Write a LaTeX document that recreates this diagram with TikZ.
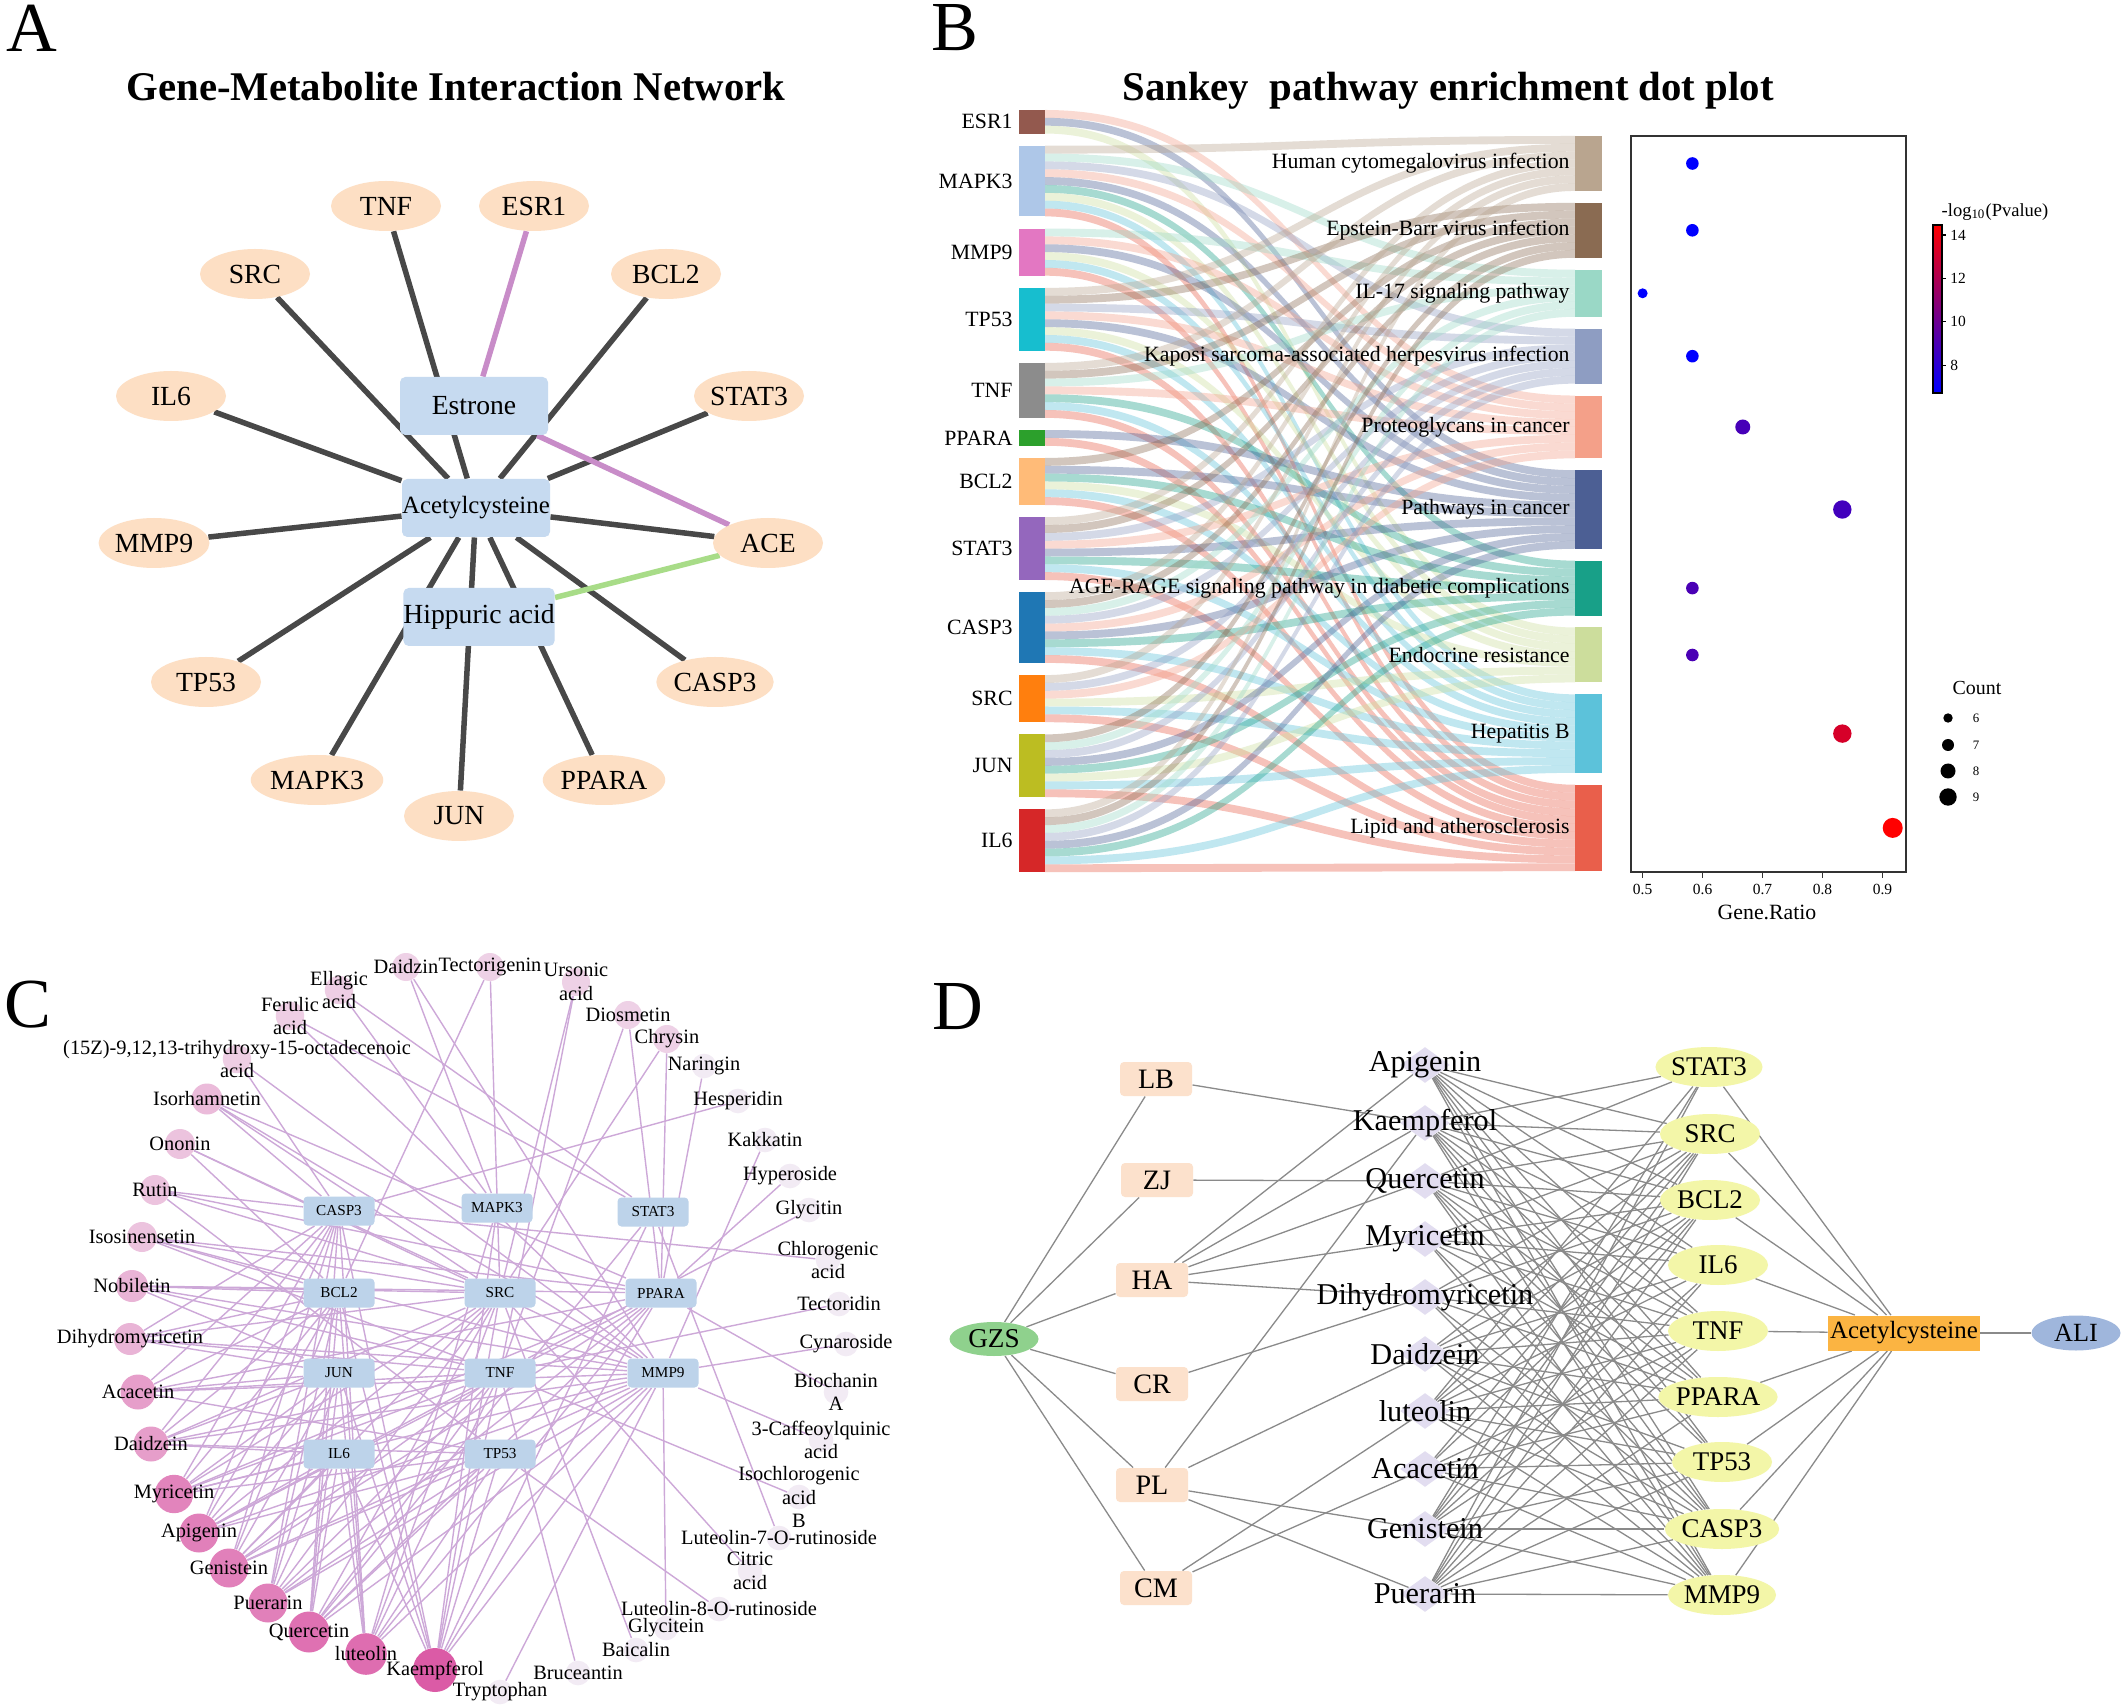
\documentclass[tikz,border=0pt]{standalone}
\usepackage{fontspec}
\setmainfont{Liberation Serif}
\usetikzlibrary{shapes.geometric,backgrounds}

\def\pxu{0.15mm}

% panel A
\definecolor{apeach}{HTML}{FDDFC4}
\definecolor{ablue}{HTML}{C6DAF0}
\definecolor{adark}{HTML}{484848}
\definecolor{apink}{HTML}{C88CC8}
\definecolor{agreen}{HTML}{A8DC88}
% panel B
\definecolor{sk1}{HTML}{93594E}
\definecolor{sk2}{HTML}{AEC7E8}
\definecolor{sk3}{HTML}{E377C2}
\definecolor{sk4}{HTML}{17BECF}
\definecolor{sk5}{HTML}{8C8C8C}
\definecolor{sk6}{HTML}{2CA02C}
\definecolor{sk7}{HTML}{FFBB78}
\definecolor{sk8}{HTML}{9467BD}
\definecolor{sk9}{HTML}{1F77B4}
\definecolor{sk10}{HTML}{FF7F0E}
\definecolor{sk11}{HTML}{BCBD22}
\definecolor{sk12}{HTML}{D62728}
\definecolor{pw0}{HTML}{B9A58F}
\definecolor{pw1}{HTML}{8A6B52}
\definecolor{pw2}{HTML}{9AD8C6}
\definecolor{pw3}{HTML}{8E9DC2}
\definecolor{pw4}{HTML}{F4A089}
\definecolor{pw5}{HTML}{4C5F94}
\definecolor{pw6}{HTML}{18A088}
\definecolor{pw7}{HTML}{CCDD9C}
\definecolor{pw8}{HTML}{5CC2DA}
\definecolor{pw9}{HTML}{E95F4B}
% panel C
\definecolor{clight}{HTML}{F3EFF6}
\definecolor{cdark}{HTML}{DB5BA6}
\definecolor{cedge}{HTML}{CDA8D8}
\definecolor{cbox}{HTML}{BDD3EA}
% panel D
\definecolor{dherb}{HTML}{FCE1CC}
\definecolor{dgzs}{HTML}{8FD18D}
\definecolor{ddia}{HTML}{E2DDF0}
\definecolor{dgene}{HTML}{F3F6A8}
\definecolor{dnac}{HTML}{FBB442}
\definecolor{dali}{HTML}{9FB6DC}
\definecolor{dedge}{HTML}{8A8A8A}

\tikzset{
  plet/.style={inner sep=0pt, font=\fontsize{30}{30}\selectfont},
  ptitle/.style={inner sep=0pt, anchor=base, font=\fontsize{17.4}{20}\selectfont\bfseries},
  agene/.style={ellipse, fill=apeach, minimum width=110*\pxu, minimum height=50*\pxu, inner sep=0pt, font=\fontsize{11.8}{12}\selectfont},
  abox/.style={fill=ablue, rounded corners=0.8mm, minimum width=148*\pxu, minimum height=58*\pxu, inner sep=0pt, font=\fontsize{11.8}{12}\selectfont},
  alink/.style={draw=adark, line width=5.5*\pxu},
  blab/.style={inner sep=0pt, font=\fontsize{9.3}{10}\selectfont},
  ticklab/.style={inner sep=0pt, font=\fontsize{6.6}{7}\selectfont},
  cgene/.style={fill=cbox, rounded corners=0.6mm, minimum width=71*\pxu, minimum height=29*\pxu, inner sep=0pt, font=\fontsize{6.5}{7}\selectfont},
  cmet/.style={circle, inner sep=0pt},
  clab/.style={inner sep=0pt, align=center, font=\fontsize{8.7}{10}\selectfont},
  clink/.style={draw=cedge, line width=1.4*\pxu},
  herb/.style={fill=dherb, rounded corners=0.6mm, minimum width=72*\pxu, minimum height=34*\pxu, inner sep=0pt, font=\fontsize{12}{12}\selectfont},
  dia/.style={diamond, fill=ddia, minimum width=50*\pxu, minimum height=36*\pxu, inner sep=0pt},
  dlab/.style={inner sep=0pt, font=\fontsize{12.9}{13}\selectfont},
  dgn/.style={ellipse, fill=dgene, minimum width=100*\pxu, minimum height=40*\pxu, inner sep=0pt, font=\fontsize{11.5}{12}\selectfont},
  dlink/.style={draw=dedge, line width=1.3*\pxu}
}

\begin{document}
\begin{tikzpicture}[x=0.15mm, y=-0.15mm]
\useasboundingbox (0,0) rectangle (2128,1706);
\begin{scope}[on background layer]
  \fill[white] (0,0) rectangle (2128,1706);
\end{scope}

% A: gene-metabolite network
\node[plet] (lA) at (32,28) {A};
\node[ptitle] (tA) at (456,101) {Gene-Metabolite Interaction Network};
\foreach \n/\x/\y in {TNF/386/206, ESR1/534/206, SRC/255/274, BCL2/666/274, IL6/171/396, STAT3/749/396, MMP9/154/543, ACE/768/543, TP53/206/682, CASP3/715/682, MAPK3/317/780, JUN/459/816, PPARA/604/780}
  \node[agene] (a\n) at (\x,\y) {\n};
\node[abox] (aEst) at (474,406) {Estrone};
\node[abox, font=\fontsize{10.6}{11}\selectfont] (aNac) at (476,508) {Acetylcysteine};
\node[abox] (aHip) at (479,617) {Hippuric acid};
\begin{scope}[on background layer]
  \foreach \n in {TNF,SRC,BCL2,IL6,STAT3,MMP9,ACE,TP53,CASP3,MAPK3,JUN,PPARA}
    \draw[alink] (aNac) -- (a\n);
  \draw[alink, draw=apink] (aEst) -- (aESR1);
  \draw[alink, draw=apink] (aEst) -- (aACE);
  \draw[alink, draw=agreen] (aHip) -- (aACE);
\end{scope}

% B: sankey + dot plot
\node[plet] (lB) at (955,28) {B};
\node[ptitle] (tB) at (1448,101) {Sankey\ \ pathway enrichment dot plot};
\def\ptops{{136,202.85,269.7,328.7,395.55,470.25,560.65,627.5,694.35,784.75}}
\foreach \p in {0,...,9}{\expandafter\xdef\csname psl\p\endcsname{0}}
\foreach \gn/\gt/\gc/\gl [count=\gi] in {ESR1/110/3/{4,5,7}, MAPK3/145.75/9/{0,2,3,4,5,6,7,8,9}, MMP9/228.6/6/{2,4,5,7,8,9}, TP53/287.9/8/{0,1,3,4,5,7,8,9}, TNF/362.9/7/{0,1,2,4,6,8,9}, PPARA/430.05/2/{5,9}, BCL2/457.95/6/{1,5,6,7,8,9}, STAT3/517.25/8/{0,1,3,4,5,6,8,9}, CASP3/592.25/9/{0,1,2,3,4,5,6,8,9}, SRC/675.1/6/{0,3,4,7,8,9}, JUN/734.4/8/{1,2,3,5,6,7,8,9}, IL6/809.4/8/{0,1,2,3,5,6,8,9}}{
  \begin{scope}[on background layer]
  \foreach \p [count=\k from 0] in \gl {
    \pgfmathsetmacro\ya{\gt+\k*7.85}
    \edef\slt{\csname psl\p\endcsname}
    \pgfmathsetmacro\yb{\ptops[\p]+\slt*7.85}
    \expandafter\xdef\csname psl\p\endcsname{\the\numexpr\slt+1\relax}
    \fill[pw\p, opacity=.38] (1045,\ya) .. controls (1310,\ya) and (1310,\yb) .. (1575,\yb)
      -- (1575,\yb+7.85) .. controls (1310,\yb+7.85) and (1310,\ya+7.85) .. (1045,\ya+7.85) -- cycle;
  }
  \end{scope}
  \fill[sk\gi] (1019,\gt) rectangle (1045,\gt+\gc*7.85);
  \node[blab, anchor=east] (b\gn) at (1013,\gt+\gc*3.925) {\gn};
}
\foreach \pn/\pt/\pc [count=\q from 0] in {Human cytomegalovirus infection/136/7, Epstein-Barr virus infection/202.85/7, IL-17 signaling pathway/269.7/6, Kaposi sarcoma-associated herpesvirus infection/328.7/7, Proteoglycans in cancer/395.55/8, Pathways in cancer/470.25/10, AGE-RAGE signaling pathway in diabetic complications/560.65/7, Endocrine resistance/627.5/7, Hepatitis B/694.35/10, Lipid and atherosclerosis/784.75/11}{
  \fill[pw\q] (1575,\pt) rectangle (1602,\pt+\pc*7.85);
  \node[blab, anchor=east] (p\q) at (1570,\pt+\pc*3.925) {\pn};
}
\draw[line width=1.8*\pxu, black!80] (1631,136) rectangle (1906,872);
\foreach \y/\rat/\rr/\tx in {163.5/0.583/6.3/0, 230.3/0.583/6.3/0, 293.3/0.5/5/0, 356.2/0.583/6.3/0, 427/0.667/7.5/28, 509.5/0.833/9.2/26, 588.1/0.583/6.3/29, 655/0.583/6.3/29, 733.6/0.833/9.2/84, 827.9/0.917/10/100}
  \fill[red!\tx!blue] ({1642.6+(\rat-0.5)*599.75},\y) circle[radius=\rr];
\foreach \v/\x in {0.5/1642.6, 0.6/1702.6, 0.7/1762.5, 0.8/1822.5, 0.9/1882.5}{
  \draw[line width=1.5*\pxu, black!80] (\x,872) -- (\x,878);
  \node[ticklab] at (\x,889) {\v};
}
\node[blab] (xlab) at (1767,912) {Gene.Ratio};
\shade[top color=red, bottom color=blue] (1933,225) rectangle (1942,393);
\draw[line width=1.2*\pxu] (1933,225) rectangle (1942,393);
\foreach \v/\y in {14/235, 12/278.4, 10/321.8, 8/365.2}{
  \draw[line width=1.2*\pxu] (1942,\y) -- (1946,\y);
  \node[ticklab, anchor=west] at (1950,\y) {\v};
}
\node[inner sep=0pt, font=\fontsize{7.9}{8}\selectfont] (cbt) at (1995,212) {-log\textsubscript{10}(Pvalue)};
\node[inner sep=0pt, font=\fontsize{8.5}{9}\selectfont] (cnt) at (1977,688) {Count};
\foreach \v/\y/\rr in {6/718/4.7, 7/745/6, 8/771/7.5, 9/797/8.7}{
  \fill (1948,\y) circle[radius=\rr];
  \node[inner sep=0pt, font=\fontsize{5.5}{6}\selectfont] at (1976,\y) {\v};
}

% C: compound-target network
\node[plet] (lC) at (28,1005) {C};
\foreach \n/\x/\y in {CASP3/339/1211, MAPK3/497/1208, STAT3/653/1212, BCL2/339/1293, SRC/500/1293, PPARA/661/1293, JUN/339/1373, TNF/500/1373, MMP9/663/1373, IL6/339/1454, TP53/500/1454}
  \node[cgene] (c\n) at (\x,\y) {\n};
\foreach \tx/\x/\y/\s [count=\mi] in {Daidzin/406/967/20, Tectorigenin/490/967/20, Ursonic\\acid/576/982/20, Diosmetin/628/1015/20, Chrysin/667/1039/20, Naringin/704/1066/3, Hesperidin/738/1101/3, Kakkatin/765/1140/3, Hyperoside/790/1176/3, Glycitin/809/1210/3, Chlorogenic\\acid/828/1260/3, Tectoridin/839/1304/3, Cynaroside/846/1344/3, Biochanin\\A/836/1392/3, 3-Caffeoylquinic\\acid/821/1440/3, Isochlorogenic\\acid\\B/799/1497/3, Luteolin-7-O-rutinoside/779/1538/3, Citric\\acid/750/1571/3, Luteolin-8-O-rutinoside/719/1609/3, Glycitein/666/1628/3, Baicalin/636/1650/3, Bruceantin/578/1673/3, Tryptophan/500/1692/3, Kaempferol/435/1670/100, luteolin/366/1654/88, Quercetin/309/1632/85, Puerarin/268/1603/75, Genistein/229/1568/75, Apigenin/199/1533/75, Myricetin/174/1494/72, Daidzein/151/1444/55, Acacetin/138/1392/55, Dihydromyricetin/130/1339/40, Nobiletin/132/1286/40, Isosinensetin/142/1237/30, Rutin/155/1190/30, Ononin/180/1144/30, Isorhamnetin/207/1099/35, {(15Z)-9,12,13-trihydroxy-15-octadecenoic\\acid}/237/1059/22, Ferulic\\acid/290/1016/22, Ellagic\\acid/339/990/22}{
  \node[cmet, minimum size={(24+0.2*\s)*\pxu}, fill=cdark!\s!clight] (m\mi) at (\x,\y) {};
  \node[clab] (ml\mi) at (\x,\y) {\tx};
}
\begin{scope}[on background layer]
\foreach \mi/\gl in {1/{MAPK3,MMP9}, 2/{SRC,BCL2}, 3/{SRC,TNF}, 4/{PPARA,TNF}, 5/{PPARA,SRC}, 6/{PPARA}, 7/{CASP3}, 8/{MMP9}, 9/{PPARA}, 10/{TNF}, 11/{CASP3}, 12/{TNF}, 13/{MMP9}, 14/{PPARA}, 15/{MMP9}, 16/{TNF}, 17/{STAT3}, 18/{SRC}, 19/{TP53}, 20/{MMP9}, 21/{SRC}, 22/{TNF}, 23/{MMP9},
  24/{IL6,JUN,BCL2,CASP3,SRC,TNF,TP53,PPARA,MMP9,STAT3,MAPK3}, 25/{IL6,JUN,BCL2,CASP3,SRC,TNF,TP53,PPARA,MMP9,MAPK3}, 26/{IL6,JUN,BCL2,CASP3,SRC,TNF,TP53,PPARA,MMP9,STAT3}, 27/{IL6,JUN,BCL2,CASP3,TNF,TP53,MMP9,PPARA,SRC}, 28/{IL6,JUN,BCL2,CASP3,SRC,TNF,TP53,PPARA,MMP9}, 29/{IL6,JUN,BCL2,CASP3,SRC,TNF,TP53,PPARA,MMP9}, 30/{IL6,JUN,BCL2,CASP3,SRC,TNF,TP53,PPARA,MMP9},
  31/{IL6,JUN,BCL2,SRC,TNF,TP53,CASP3,MMP9}, 32/{JUN,TNF,CASP3,BCL2,PPARA,TP53,MMP9}, 33/{BCL2,JUN,TNF,MMP9,CASP3,SRC}, 34/{BCL2,SRC,TNF,MMP9,JUN,PPARA}, 35/{BCL2,SRC,PPARA,TNF,MMP9}, 36/{CASP3,TP53,PPARA,SRC}, 37/{SRC,MMP9,BCL2}, 38/{SRC,PPARA,MMP9,CASP3}, 39/{MMP9,CASP3}, 40/{STAT3,MMP9}, 41/{MAPK3,STAT3}}
  \foreach \g in \gl
    \draw[clink] (m\mi) -- (c\g);
\end{scope}

% D: herb-compound-target-disease network
\node[plet] (lD) at (958,1007) {D};
\node[ellipse, fill=dgzs, minimum width=89*\pxu, minimum height=34*\pxu, inner sep=0pt, font=\fontsize{11.6}{12}\selectfont] (dGZS) at (994,1339) {GZS};
\foreach \n/\x/\y in {LB/1156/1079, ZJ/1157/1180, HA/1152/1280, CR/1152/1384, PL/1152/1485, CM/1156/1588}
  \node[herb] (h\n) at (\x,\y) {\n};
\foreach \n/\tx/\y in {Api/Apigenin/1065, Kae/Kaempferol/1123, Que/Quercetin/1181, Myr/Myricetin/1239, Dih/Dihydromyricetin/1297, Dai/Daidzein/1354, Lut/luteolin/1411, Aca/Acacetin/1469, Gen/Genistein/1529, Pue/Puerarin/1594}{
  \node[dia] (d\n) at (1425,\y) {};
  \node[dlab] at (1425,\y) {\tx};
}
\foreach \n/\x/\y in {STAT3/1709/1067, SRC/1710/1134, BCL2/1710/1200, IL6/1718/1265, TNF/1718/1331, PPARA/1718/1397, TP53/1722/1462, CASP3/1722/1529, MMP9/1722/1595}
  \node[dgn] (g\n) at (\x,\y) {\n};
\node[fill=dnac, minimum width=152*\pxu, minimum height=35*\pxu, inner sep=0pt, font=\fontsize{10.6}{11}\selectfont] (dNac) at (1904,1333) {Acetylcysteine};
\node[ellipse, fill=dali, minimum width=89*\pxu, minimum height=35*\pxu, inner sep=0pt, font=\fontsize{11.2}{12}\selectfont] (dALI) at (2076,1333) {ALI};
\begin{scope}[on background layer]
  \foreach \n in {LB,ZJ,HA,CR,PL,CM}
    \draw[dlink] (dGZS) -- (h\n);
  \foreach \h/\m in {LB/Kae, ZJ/Que, HA/Api, HA/Kae, HA/Que, HA/Myr, HA/Dih, CR/Dih, PL/Kae, PL/Dai, PL/Gen, PL/Pue, CM/Lut, CM/Aca}
    \draw[dlink] (h\h) -- (d\m);
  \foreach \m/\gl in {Api/{SRC,BCL2,IL6,TNF,PPARA,TP53,CASP3,MMP9}, Kae/{STAT3,SRC,BCL2,IL6,TNF,PPARA,TP53,CASP3,MMP9}, Que/{STAT3,SRC,BCL2,IL6,TNF,PPARA,TP53,CASP3,MMP9}, Myr/{SRC,BCL2,IL6,TNF,PPARA,CASP3,MMP9}, Dih/{SRC,BCL2,TNF,PPARA,CASP3,MMP9}, Dai/{SRC,BCL2,IL6,TNF,PPARA,TP53,CASP3,MMP9}, Lut/{STAT3,SRC,BCL2,IL6,TNF,PPARA,TP53,CASP3,MMP9}, Aca/{SRC,BCL2,TNF,PPARA,TP53,CASP3,MMP9}, Gen/{STAT3,SRC,BCL2,IL6,TNF,TP53,CASP3,MMP9}, Pue/{STAT3,SRC,BCL2,IL6,TNF,PPARA,TP53,CASP3,MMP9}}
    \foreach \g in \gl
      \draw[dlink] (d\m) -- (g\g);
  \foreach \g in {STAT3,SRC,BCL2,IL6,TNF,PPARA,TP53,CASP3,MMP9}
    \draw[dlink] (g\g) -- (dNac);
  \draw[dlink] (dNac) -- (dALI);
\end{scope}
\end{tikzpicture}
\end{document}
